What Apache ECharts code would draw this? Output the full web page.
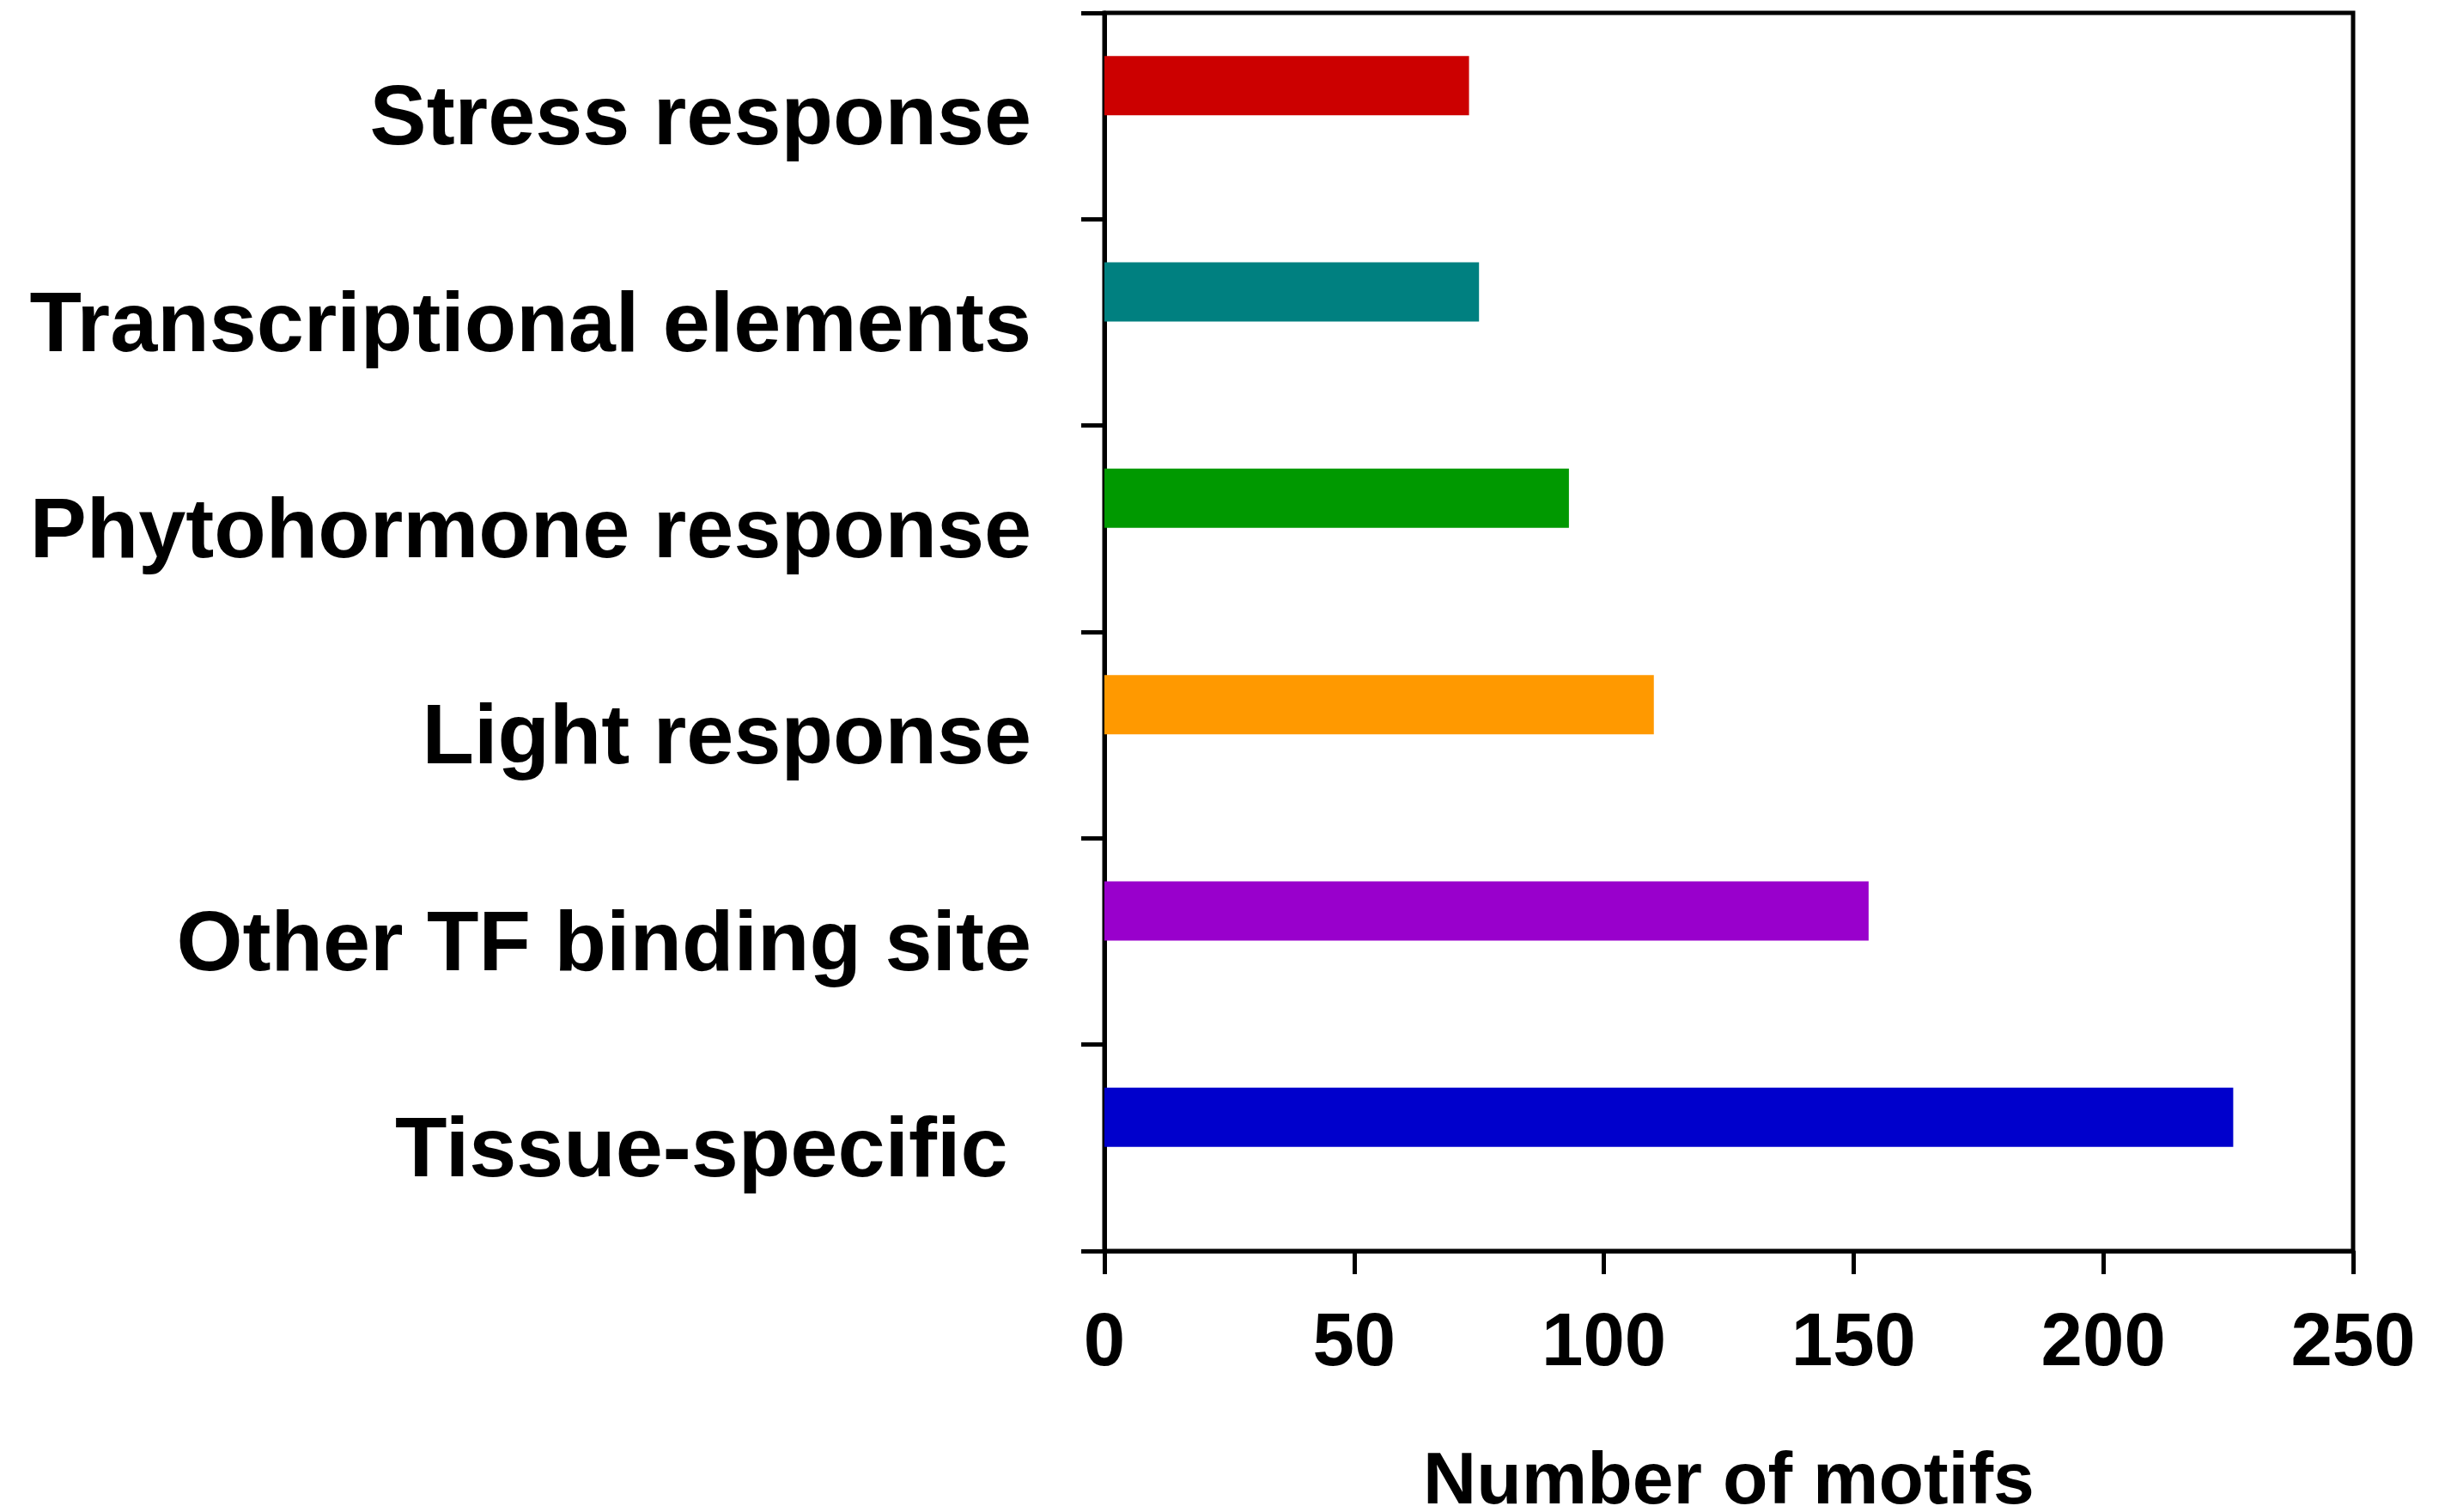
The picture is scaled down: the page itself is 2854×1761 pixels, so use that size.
<!DOCTYPE html>
<html>
<head>
<meta charset="utf-8">
<script src="https://cdn.jsdelivr.net/npm/echarts@6/dist/echarts.min.js"></script>
<style>
  html, body { margin: 0; padding: 0; background: #fff; }
  #chart { width: 2854px; height: 1761px; }
</style>
</head>
<body>
<div id="chart"></div>
<script>
// ---- data ----
const categories = [
  'Stress response',
  'Transcriptional elements',
  'Phytohormone response',
  'Light response',
  'Other TF binding site',
  'Tissue-specific '
];
const motifCounts = [73, 75, 93, 110, 153, 226];
const xTicks = [0, 50, 100, 150, 200, 250];
const axisTitle = 'Number of motifs';

// ---- styles ----
const barColors = ['#CC0000', '#008080', '#009900', '#FF9900', '#9900CC', '#0000CC'];
const FONT = "'Liberation Sans', Arial, Helvetica, sans-serif";

const chart = echarts.init(document.getElementById('chart'), null, { renderer: 'canvas' });

chart.setOption({
  backgroundColor: '#ffffff',
  animation: false,
  grid: {
    left: 1286, right: 114, top: 15, bottom: 304,
    containLabel: false,
    outerBoundsMode: 'none',
    show: true,
    borderColor: '#000',
    borderWidth: 5,
    backgroundColor: 'transparent'
  },
  xAxis: {
    type: 'value',
    min: xTicks[0],
    max: xTicks[xTicks.length - 1],
    interval: xTicks[1] - xTicks[0],
    name: axisTitle,
    nameLocation: 'middle',
    nameGap: 227,
    nameTextStyle: { fontFamily: FONT, fontWeight: 'bold', fontSize: 86, color: '#000' },
    axisLine: { show: true, lineStyle: { color: '#000', width: 5 } },
    axisTick: { show: true, inside: false, length: 27, lineStyle: { color: '#000', width: 5 } },
    axisLabel: { fontFamily: FONT, fontWeight: 'bold', fontSize: 87, color: '#000', margin: 66 },
    splitLine: { show: false }
  },
  yAxis: {
    type: 'category',
    data: categories,
    inverse: true,
    axisLine: { show: true, lineStyle: { color: '#000', width: 5 } },
    axisTick: { show: true, inside: false, length: 27, alignWithLabel: false, lineStyle: { color: '#000', width: 5 } },
    axisLabel: {
      fontFamily: FONT, fontWeight: 'bold', fontSize: 99, color: '#000', margin: 85,
      verticalAlign: 'top', lineHeight: 12
    },
    splitLine: { show: false }
  },
  series: [
    {
      type: 'bar',
      barWidth: 69,
      barGap: '3%',
      data: motifCounts.map((v, i) => ({ value: v, itemStyle: { color: barColors[i] } }))
    },
    {
      type: 'bar',
      barWidth: 69,
      barGap: '3%',
      silent: true,
      data: categories.map(() => '-')
    }
  ]
});
</script>
</body>
</html>
